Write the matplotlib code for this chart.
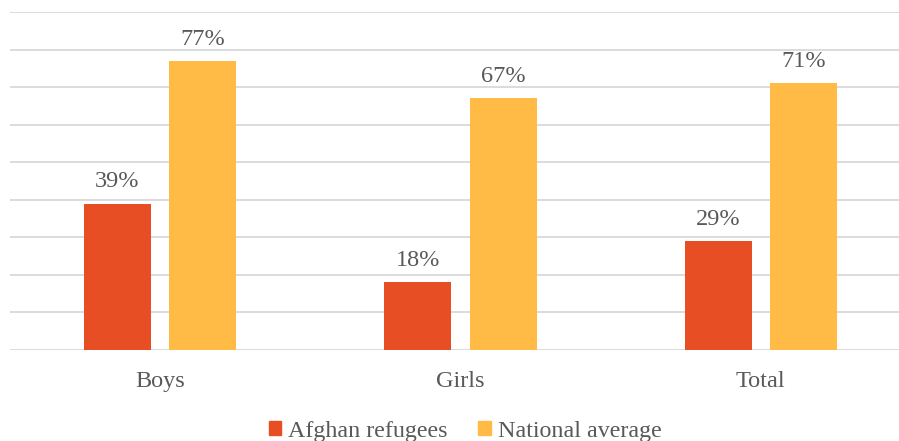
import numpy as np
from matplotlib import pyplot as plt
from matplotlib.patches import Patch

categories = ["Boys", "Girls", "Total"]
afghan = [39, 18, 29]
national = [77, 67, 71]
series_names = ["Afghan refugees", "National average"]

red = "#E84E23"
yellow = "#FFBB45"
text_col = "#595959"

plt.rcParams['font.family'] = ['Liberation Serif', 'DejaVu Serif']

fig = plt.figure(figsize=(8.99, 4.41), dpi=100)
ax = fig.add_axes([10 / 899, 1 - 350 / 441, 889 / 899, (350 - 12) / 441])

x = np.arange(len(categories))
w = 0.223
off = 0.142
b1 = ax.bar(x - off, afghan, w, color=red, zorder=3)
b2 = ax.bar(x + off, national, w, color=yellow, zorder=3)

for bars, vals in ((b1, afghan), (b2, national)):
    for b, v in zip(bars, vals):
        ax.text(b.get_x() + b.get_width() / 2, v + 3, f"{v}%", ha="center", va="bottom",
                fontsize=17.5, color=text_col)

ax.set_ylim(0, 90)
ax.set_xlim(-0.5, 2.46)
ax.set_yticks(np.arange(0, 91, 10))
ax.set_yticklabels([])
ax.grid(axis="y", color="#D9D9D9", linewidth=1.3, zorder=0)
ax.tick_params(axis="y", length=0)
ax.tick_params(axis="x", length=0, pad=15, labelsize=17.5, labelcolor=text_col)
ax.set_xticks(x)
ax.set_xticklabels(categories)
for s in ax.spines.values():
    s.set_visible(False)

handles = [Patch(color=red), Patch(color=yellow)]
fig.legend(handles, series_names, loc="center", bbox_to_anchor=(465 / 899, 1 - 431 / 441),
           ncol=2, frameon=False, fontsize=17.3, labelcolor=text_col,
           handlelength=0.5, handleheight=0.5, handletextpad=0.3, columnspacing=1.3,
           borderpad=0)

fig.savefig("out.png", dpi=100)
